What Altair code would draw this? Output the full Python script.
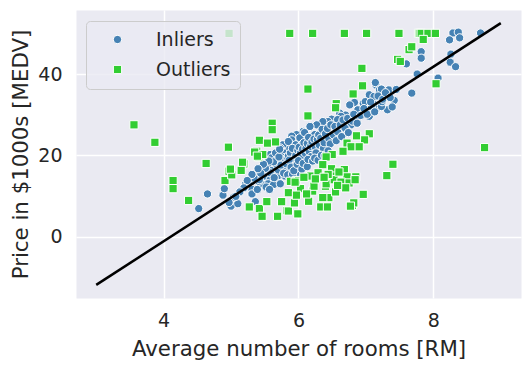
import altair as alt
import pandas as pd

# ---------------- data ----------------
inlier_rm = [
    8.29, 8.37, 8.39, 8.24, 8.70, 7.82, 7.82, 7.60, 8.26, 8.25, 8.33, 7.76, 8.07, 7.68,
    7.15, 7.14, 7.20, 7.34, 7.42, 7.32, 7.05, 7.10, 6.96, 6.83, 6.76, 6.68, 6.61, 6.49,
    6.44, 6.36, 6.27, 6.17, 6.07, 5.97, 5.90, 7.05, 7.01, 7.15, 7.23, 6.91, 6.86, 6.78,
    6.71, 6.59, 6.61, 6.51, 6.41, 6.34, 6.27, 6.24, 6.17, 6.09, 6.02, 5.95, 6.00, 6.12,
    6.22, 6.32, 6.41, 5.92, 6.02, 6.12, 5.87, 6.00, 7.23, 7.39, 7.24, 7.12, 7.08, 6.99,
    6.88, 6.70, 6.63, 6.58,
    5.21, 5.28, 5.36, 5.41, 5.46, 5.50, 5.53, 5.58, 5.61, 5.65, 5.68, 5.73, 5.76, 5.80,
    5.83, 5.87, 5.90, 5.93, 5.96, 6.02, 6.05, 6.09, 5.80, 5.70, 5.58, 5.46, 5.41, 5.55,
    5.63, 5.58, 5.77, 5.85, 5.73, 5.68, 5.58, 5.77,
    4.52, 4.65, 4.88, 4.90, 5.00, 5.10, 5.04, 5.31, 5.31, 5.36, 5.39, 5.42, 5.52, 5.57,
    5.73, 5.64, 5.80, 5.42,
    5.85, 5.88, 5.91, 5.94, 5.96, 5.99, 6.01, 6.03, 6.04, 6.06, 6.08, 6.10, 6.11, 6.13,
    6.15, 6.16, 6.18, 6.19, 6.20, 6.23, 6.25, 6.26, 6.28, 6.30, 6.31, 6.33, 6.35, 6.37,
    6.38, 6.40, 6.43, 6.45, 6.47, 6.48, 6.52, 6.54, 6.56, 6.58, 6.62, 6.64, 6.66, 6.69,
    6.73, 6.74, 6.80, 6.82, 6.87, 6.92, 6.97, 7.02, 7.07, 7.13, 7.18, 7.25, 7.29, 7.36,
    7.45,
    5.70, 5.74, 5.78, 5.82, 5.84, 5.86, 5.89, 5.91, 5.93, 5.98, 6.00, 6.05, 6.07, 6.13,
    6.14, 6.21, 6.24, 6.29, 6.34, 6.39, 6.44,
    5.60, 5.63, 5.66, 5.71, 5.72, 5.56, 5.51, 5.48, 5.44, 5.40, 5.34, 5.31, 5.24, 5.19,
    5.13, 5.07, 4.97,
]
inlier_medv = [
    50.1, 50.3, 48.9, 48.4, 50.1, 45.5, 43.9, 42.5, 44.9, 42.9, 41.8, 40.0, 39.0, 35.3,
    37.3, 37.9, 36.1, 36.1, 33.5, 31.2, 34.9, 32.8, 32.8, 33.0, 32.4, 30.0, 30.4, 28.9,
    28.3, 28.3, 27.5, 27.1, 25.9, 25.1, 24.7, 29.6, 31.2, 31.4, 32.0, 30.4, 28.8, 27.5,
    26.3, 26.7, 25.1, 23.8, 24.7, 23.4, 22.6, 25.1, 23.8, 22.2, 23.0, 21.4, 19.8, 19.8,
    21.4, 21.0, 22.1, 18.5, 17.3, 18.2, 16.5, 15.7, 36.3, 31.9, 33.2, 34.5, 32.0, 33.2,
    31.2, 29.9, 29.6, 28.8,
    12.8, 13.2, 14.0, 14.6, 16.0, 14.9, 17.3, 17.7, 16.3, 19.0, 17.5, 20.2, 18.2, 21.4,
    19.4, 21.8, 23.8, 20.8, 22.6, 24.3, 22.6, 25.6, 16.5, 15.0, 14.0, 13.0, 13.6, 13.0,
    12.8, 20.2, 22.6, 23.4, 21.8, 18.9, 15.7, 16.9,
    6.9, 10.5, 10.2, 11.8, 7.5, 8.1, 9.7, 11.6, 10.5, 8.6, 11.6, 14.0, 12.2, 11.6,
    13.0, 14.5, 14.9, 15.2,
    19.9, 20.6, 21.7, 19.3, 20.0, 21.2, 22.0, 20.6, 19.4, 21.5, 23.1, 20.5, 21.7, 22.9,
    24.4, 20.9, 22.2, 19.7, 23.3, 24.0, 22.0, 20.6, 23.9, 25.0, 22.5, 24.2, 26.4, 21.7,
    23.1, 25.3, 26.6, 24.1, 22.8, 27.5, 25.0, 27.1, 23.6, 25.8, 27.5, 24.6, 28.7, 26.7,
    29.1, 25.6, 28.4, 30.1, 27.9, 29.8, 31.5, 30.1, 33.1, 30.7, 34.6, 33.8, 35.4, 34.2,
    36.2,
    16.4, 17.6, 15.6, 17.9, 15.2, 18.8, 17.1, 15.4, 16.2, 17.8, 18.7, 16.6, 18.0, 17.2,
    19.0, 18.6, 19.3, 18.8, 20.0, 19.9, 21.1,
    19.4, 18.4, 20.6, 19.6, 21.5, 18.6, 16.8, 17.8, 15.6, 16.7, 14.4, 15.3, 13.8, 12.0,
    11.0, 9.9, 8.4,
]

outlier_rm = [
    4.97, 5.87, 6.21, 6.68, 7.01, 7.49, 7.78, 7.80, 7.82, 7.92, 8.03, 7.85, 7.64, 7.68,
    7.47, 7.51, 6.94, 8.04, 6.14, 6.95, 6.81, 6.56, 6.55, 6.14, 7.05, 6.98, 6.86, 6.72,
    6.78, 6.90, 6.66, 6.50, 6.41, 6.36, 6.49, 6.68, 7.40, 7.31, 8.76, 6.18, 6.29, 6.51,
    6.72, 6.85, 3.56, 3.87, 4.96, 4.63, 4.97, 5.19, 5.15, 5.42, 5.38, 5.41, 4.91, 4.14,
    4.14, 4.37, 5.61, 5.61, 5.54, 5.66, 5.47, 5.01, 5.17, 4.99, 5.27, 5.42, 5.46, 5.53,
    5.69, 5.75, 5.83, 5.85, 5.85, 5.99, 5.94, 6.03, 6.15, 6.21, 6.33, 6.43, 6.45, 6.36,
    6.55, 6.80, 6.82, 6.96, 6.40, 6.23, 5.97, 6.41, 6.53, 6.63, 6.75, 6.84, 6.77, 5.88,
    5.95, 5.97, 6.08, 5.35, 5.39, 6.25, 6.44, 6.60, 6.38, 6.70, 6.58, 6.12,
]
outlier_medv = [
    50.0, 50.0, 50.0, 50.0, 50.0, 50.0, 50.0, 50.0, 50.0, 50.0, 50.0, 48.5, 46.0, 46.7,
    43.6, 43.1, 41.4, 37.6, 36.3, 37.1, 35.1, 32.7, 31.7, 29.7, 25.3, 23.8, 24.8, 23.0,
    22.1, 22.1, 21.0, 20.2, 19.6, 17.7, 16.7, 16.5, 17.8, 15.0, 21.9, 14.9, 15.7, 14.9,
    14.7, 14.7, 27.5, 23.2, 22.0, 18.0, 16.1, 17.9, 16.3, 23.7, 21.0, 19.6, 13.8, 13.8,
    11.8, 8.9, 27.9, 26.3, 23.0, 23.3, 20.2, 15.2, 18.3, 16.6, 7.3, 6.9, 5.0, 8.6,
    5.0, 8.6, 6.4, 10.8, 6.3, 5.6, 8.3, 11.8, 8.7, 11.2, 7.3, 7.3, 9.6, 9.6,
    11.0, 7.7, 8.3, 10.4, 12.4, 12.4, 13.8, 13.0, 14.0, 13.4, 13.2, 14.0, 7.5, 13.6,
    13.4, 10.2, 14.6, 20.8, 19.8, 14.2, 15.3, 15.9, 14.6, 12.0, 12.6, 10.5,
]

# RANSAC fit line, end points
line_rm = [3.0, 9.0]
line_medv = [-11.88, 52.53]

series_labels = ["Inliers", "Outliers"]
series_colors = ["#4682B4", "#32CD32"]
series_shapes = ["circle", "square"]
x_ticks = [4, 6, 8]
y_ticks = [0, 20, 40]

# ---------------- tables ----------------
pts = pd.concat([
    pd.DataFrame({"rm": inlier_rm, "medv": inlier_medv, "group": series_labels[0]}),
    pd.DataFrame({"rm": outlier_rm, "medv": outlier_medv, "group": series_labels[1]}),
], ignore_index=True)
pts["order"] = range(len(pts))
line_df = pd.DataFrame({"rm": line_rm, "medv": line_medv})

FONT = "DejaVu Sans"
TXT = "#262626"

x_scale = alt.Scale(domain=[2.7, 9.3], nice=False, zero=False)
y_scale = alt.Scale(domain=[-15.1, 55.75], nice=False, zero=False)

x_axis = alt.Axis(values=x_ticks, format="d", title="Average number of rooms [RM]",
                  labelPadding=13, titleY=57.7, titleBaseline="alphabetic")
y_axis = alt.Axis(values=y_ticks, format="d", title="Price in $1000s [MEDV]",
                  labelPadding=14, titleX=-48.5, titleBaseline="alphabetic")

legend = alt.Legend(
    title=None, orient="none", legendX=10, legendY=11,
    fillColor="rgba(234,234,242,0.8)", strokeColor="#cccccc", cornerRadius=4,
    padding=9, labelFont=FONT, labelFontSize=19, labelColor=TXT,
    symbolSize=68, symbolStrokeColor="white", symbolStrokeWidth=1,
    symbolOffset=13, labelOffset=29, rowPadding=10,
)

points = alt.Chart(pts).mark_point(
    filled=True, size=68, stroke="white", strokeWidth=1, opacity=1
).encode(
    x=alt.X("rm:Q", scale=x_scale, axis=x_axis),
    y=alt.Y("medv:Q", scale=y_scale, axis=y_axis),
    color=alt.Color("group:N", scale=alt.Scale(domain=series_labels, range=series_colors), legend=legend),
    shape=alt.Shape("group:N", scale=alt.Scale(domain=series_labels, range=series_shapes), legend=legend),
    order=alt.Order("order:Q"),
)

line = alt.Chart(line_df).mark_line(color="black", strokeWidth=2.5).encode(
    x="rm:Q", y="medv:Q"
)

chart = alt.layer(points, line).properties(
    width=445, height=288,
    autosize=alt.AutoSizeParams(type="none"),
    padding={"left": 68, "top": 2, "right": 3, "bottom": 66},
    background="white",
).configure_view(
    fill="#EAEAF2", stroke="transparent"
).configure_axis(
    domain=False, ticks=False, grid=True, gridColor="white", gridWidth=1.5,
    labelFont=FONT, labelFontSize=19, labelColor=TXT,
    titleFont=FONT, titleFontSize=21.3, titleFontWeight="normal", titleColor=TXT,
)

chart.save("out.html", embed_options={"renderer": "svg", "actions": False})
